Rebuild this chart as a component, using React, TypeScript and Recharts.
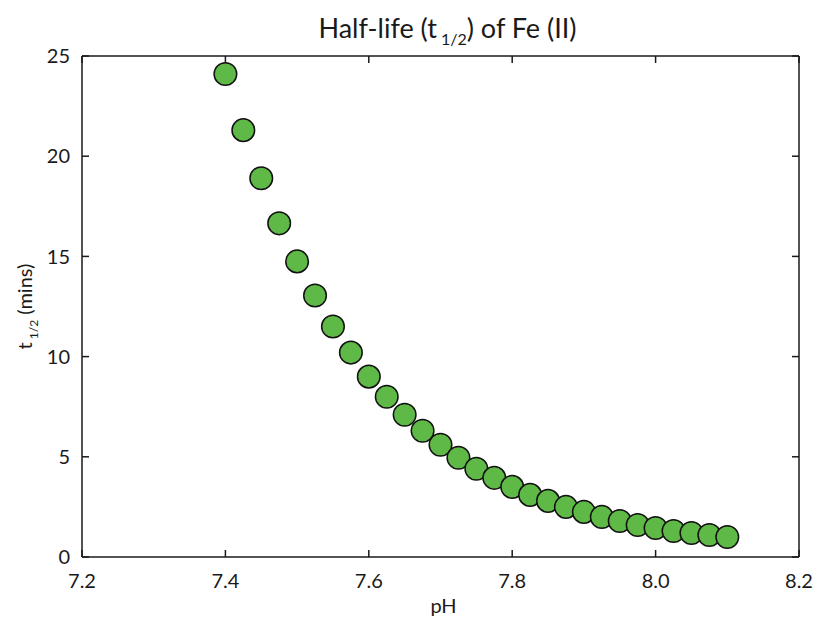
import { ScatterChart, Scatter, XAxis, YAxis, Label } from "recharts";

const phValues = [
  7.4, 7.425, 7.45, 7.475, 7.5, 7.525, 7.55, 7.575, 7.6, 7.625, 7.65, 7.675,
  7.7, 7.725, 7.75, 7.775, 7.8, 7.825, 7.85, 7.875, 7.9, 7.925, 7.95, 7.975,
  8.0, 8.025, 8.05, 8.075, 8.1,
];
const halfLife = [
  24.1, 21.3, 18.9, 16.65, 14.75, 13.05, 11.5, 10.2, 9.0, 8.0, 7.1, 6.3, 5.6,
  4.95, 4.4, 3.95, 3.5, 3.1, 2.8, 2.5, 2.25, 2.0, 1.8, 1.6, 1.45, 1.3, 1.2,
  1.1, 1.0,
];
const xTicks = [7.2, 7.4, 7.6, 7.8, 8.0, 8.2];
const yTicks = [0, 5, 10, 15, 20, 25];

const FONT = "Lato, 'Open Sans', sans-serif";
const INK = "#1a1a1a";
const TICK_LEN = 7;

const chartData = phValues.map((ph, i) => ({ ph, t: halfLife[i] }));

// ticks point inward, so the lines are drawn here instead of by recharts
const BottomTick = (props: any) => {
  const { x, y, payload } = props;
  return (
    <g>
      <line x1={x} y1={y} x2={x} y2={y - TICK_LEN} stroke={INK} strokeWidth={1.5} />
      <text x={x} y={y + 31} textAnchor="middle" fontSize={20} fill={INK} fontFamily={FONT}>
        {Number(payload.value).toFixed(1)}
      </text>
    </g>
  );
};

const TopTick = (props: any) => {
  const { x, y } = props;
  return <line x1={x} y1={y} x2={x} y2={y + TICK_LEN} stroke={INK} strokeWidth={1.5} />;
};

const LeftTick = (props: any) => {
  const { x, y, payload } = props;
  return (
    <g>
      <line x1={x} y1={y} x2={x + TICK_LEN} y2={y} stroke={INK} strokeWidth={1.5} />
      <text x={x - 12} y={y} dy="0.36em" textAnchor="end" fontSize={20} fill={INK} fontFamily={FONT}>
        {payload.value}
      </text>
    </g>
  );
};

const RightTick = (props: any) => {
  const { x, y } = props;
  return <line x1={x} y1={y} x2={x - TICK_LEN} y2={y} stroke={INK} strokeWidth={1.5} />;
};

const Dot = (props: any) => (
  <circle cx={props.cx} cy={props.cy} r={11.3} fill="#5fb946" stroke="#111" strokeWidth={1.5} />
);

const NoDot = () => <g />;

export default function App() {
  return (
    <div style={{ position: "absolute", left: 0, top: 0, width: 817, height: 618 }}>
      <ScatterChart
        width={817}
        height={618}
        data={chartData}
        margin={{ top: 55, right: 17, bottom: 0, left: 0 }}
      >
        <XAxis
          dataKey="ph"
          type="number"
          domain={[7.2, 8.2]}
          ticks={xTicks}
          height={61}
          tickSize={0}
          tickMargin={0}
          tickLine={false}
          axisLine={{ stroke: INK, strokeWidth: 1.5 }}
          tick={<BottomTick />}
          interval={0}
        >
          <Label
            content={(p: any) => {
              const vb = p.viewBox;
              return (
                <text x={vb.x + vb.width / 2 + 3} y={613} textAnchor="middle" fontSize={20} fill={INK} fontFamily={FONT}>
                  pH
                </text>
              );
            }}
          />
        </XAxis>
        <XAxis
          xAxisId="top"
          orientation="top"
          dataKey="ph"
          type="number"
          domain={[7.2, 8.2]}
          ticks={xTicks}
          height={1}
          tickSize={0}
          tickMargin={0}
          tickLine={false}
          axisLine={{ stroke: INK, strokeWidth: 1.5 }}
          tick={<TopTick />}
          interval={0}
        >
          <Label
            content={(p: any) => {
              const vb = p.viewBox;
              return (
                <text x={vb.x + vb.width / 2 + 7} y={38} textAnchor="middle" fontSize={27} fill={INK} fontFamily={FONT}>
                  Half-life (t
                  <tspan fontSize={16} dx={4} dy={7}>1/2</tspan>
                  <tspan dy={-7}>) of Fe (II)</tspan>
                </text>
              );
            }}
          />
        </XAxis>
        <YAxis
          dataKey="t"
          type="number"
          domain={[0, 25]}
          ticks={yTicks}
          width={82}
          tickSize={0}
          tickMargin={0}
          tickLine={false}
          axisLine={{ stroke: INK, strokeWidth: 1.5 }}
          tick={<LeftTick />}
          interval={0}
        >
          <Label
            content={(p: any) => {
              const vb = p.viewBox;
              const cx = 32;
              const cy = vb.y + vb.height / 2;
              return (
                <text
                  x={cx}
                  y={cy}
                  transform={`rotate(-90, ${cx}, ${cy})`}
                  textAnchor="middle"
                  fontSize={20}
                  fill={INK}
                  fontFamily={FONT}
                >
                  t
                  <tspan fontSize={12} dx={3} dy={6}>1/2</tspan>
                  <tspan dy={-6}> (mins)</tspan>
                </text>
              );
            }}
          />
        </YAxis>
        <YAxis
          yAxisId="right"
          orientation="right"
          dataKey="t"
          type="number"
          domain={[0, 25]}
          ticks={yTicks}
          width={1}
          tickSize={0}
          tickMargin={0}
          tickLine={false}
          axisLine={{ stroke: INK, strokeWidth: 1.5 }}
          tick={<RightTick />}
          interval={0}
        />
        {/* invisible copy bound to the frame axes (top, right) so their ticks get drawn */}
        <Scatter xAxisId="top" yAxisId="right" dataKey="t" shape={<NoDot />} isAnimationActive={false} />
        <Scatter dataKey="t" shape={<Dot />} isAnimationActive={false} />
      </ScatterChart>
    </div>
  );
}
